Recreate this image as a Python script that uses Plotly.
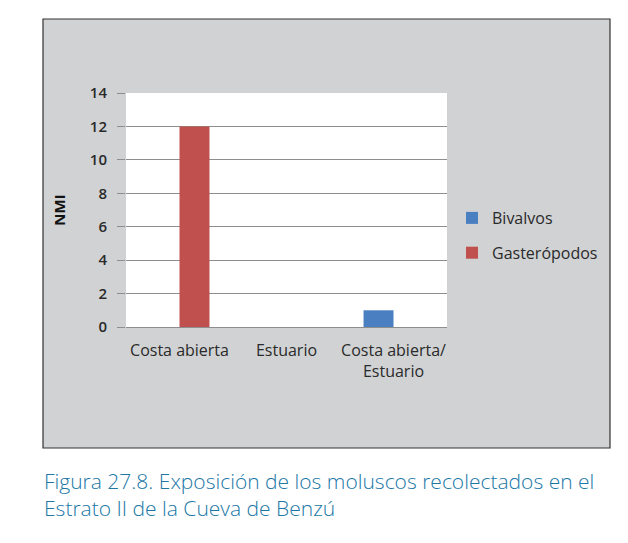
import plotly.graph_objects as go

categories = ["Costa abierta", "Estuario", "Costa abierta/<br>Estuario"]
bivalvos = [0, 0, 1]
gasteropodos = [12, 0, 0]
y_ticks = [0, 2, 4, 6, 8, 10, 12, 14]
caption = ("Figura 27.8. Exposición de los moluscos recolectados en el<br>"
           "Estrato II de la Cueva de Benzú")

# the page body has an 8px margin, so work in window pixels minus that
OFF = 8
W, H = 628 - OFF, 543 - OFF
# plot area in window pixels: x 126..447, y 93..327
L, R, T, B = 126 - OFF, 447 - OFF, 93 - OFF, 327 - OFF
pw, ph = R - L, B - T


def px(x):
    return (x - OFF - L) / pw


def py(y):
    return (B - (y - OFF)) / ph


fig = go.Figure()
fig.add_trace(go.Bar(x=categories, y=bivalvos, name="Bivalvos",
                     marker=dict(color="#4a7fc1", line=dict(width=0)),
                     legendgroup="a"))
fig.add_trace(go.Bar(x=categories, y=gasteropodos, name="Gasterópodos",
                     marker=dict(color="#c0504d", line=dict(width=0)),
                     legendgroup="b"))

chart_font = "Open Sans, sans-serif"
tick_font = dict(size=15, family=chart_font, color="#2a2a2a", weight=600)

fig.update_layout(
    width=W, height=H,
    margin=dict(l=L, r=W - R, t=T, b=H - B, pad=0, autoexpand=False),
    paper_bgcolor="white",
    plot_bgcolor="rgba(0,0,0,0)",
    barmode="group",
    bargap=0.44,
    bargroupgap=0,
    font=dict(family=chart_font, size=13, color="#222"),
    shapes=[
        # grey chart box with black frame
        dict(type="rect", xref="paper", yref="paper", layer="below",
             x0=px(43), x1=px(610), y0=py(448), y1=py(19),
             fillcolor="#d1d2d4", line=dict(color="#333", width=1.2)),
        # white plot area
        dict(type="rect", xref="paper", yref="paper", layer="below",
             x0=0, x1=1, y0=0, y1=1,
             fillcolor="white", line=dict(width=0)),
    ],
    xaxis=dict(showgrid=False, showline=False, ticks="",
               ticklabelstandoff=12,
               tickfont=dict(size=16, family=chart_font, color="#2a2a2a")),
    yaxis=dict(range=[0, 14], tickvals=y_ticks, showgrid=True,
               gridcolor="#8e8e8e", gridwidth=1, zeroline=True,
               zerolinecolor="#8e8e8e", zerolinewidth=1,
               ticks="outside", ticklen=8, tickcolor="#8e8e8e",
               ticklabelstandoff=7,
               tickfont=tick_font,
               title=dict(text="<b>NMI</b>", standoff=20,
                          font=dict(size=15, family=chart_font, color="#111"))),
    legend=dict(xref="container", yref="container",
                x=(452 - OFF) / W, y=1 - (201 - OFF) / H,
                xanchor="left", yanchor="top",
                bgcolor="rgba(0,0,0,0)", tracegroupgap=11,
                font=dict(size=16, family=chart_font, color="#2a2a2a"),
                itemwidth=30),
    annotations=[
        dict(text=caption, align="left",
             xref="paper", yref="paper", x=px(42), y=py(494.5),
             xanchor="left", yanchor="middle", showarrow=False,
             font=dict(family="Open Sans, sans-serif", size=21,
                       color="#2077a6", weight=300)),
    ],
)

fig.write_html("out.html")
